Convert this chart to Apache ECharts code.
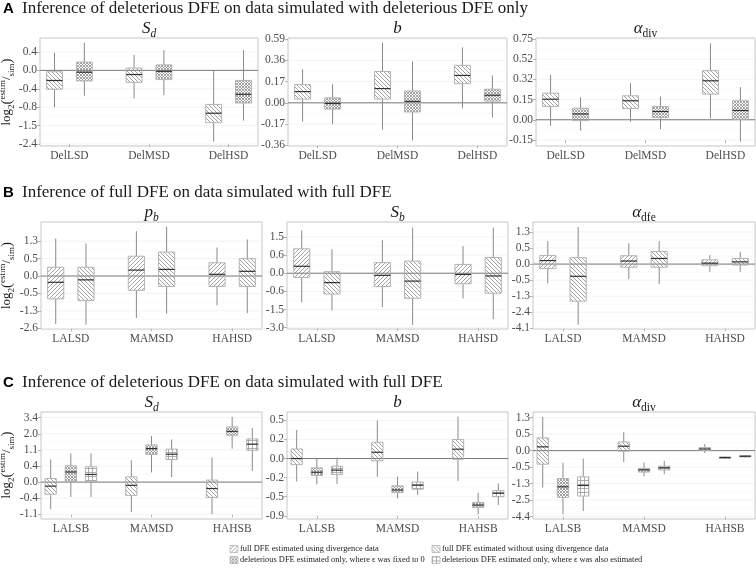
<!DOCTYPE html>
<html><head><meta charset="utf-8">
<script src="https://cdn.jsdelivr.net/npm/echarts@6/dist/echarts.min.js"></script>
<style>html,body{margin:0;padding:0;background:#fff}#c{width:756px;height:581px}</style>
</head><body><div id="c"></div>
<script>
// ---------------- DATA ----------------
const rowA_categories = ['DelLSD', 'DelMSD', 'DelHSD'];
const rowB_categories = ['LALSD', 'MAMSD', 'HAHSD'];
const rowC_categories = ['LALSB', 'MAMSD', 'HAHSB'];

const rowTitles = [
  'Inference of deleterious DFE on data simulated with deleterious DFE only',
  'Inference of full DFE on data simulated with full DFE',
  'Inference of deleterious DFE on data simulated with full DFE'
];
const rowLetters = ['A', 'B', 'C'];

const methodLabels = {
  withDiv: 'full DFE estimated using divergence data',
  noDiv: 'full DFE estimated without using divergence data',
  eps0: 'deleterious DFE estimated only, where \u03f5 was fixed to 0',
  epsEst: 'deleterious DFE estimated only, where \u03f5 was also estimated'
};

// tick labels (bottom -> top), boxes: [lower whisker, Q1, median, Q3, upper whisker] per category
const A_Sd_ticks = ['-2.4', '-1.5', '-0.8', '-0.4', '0.0', '0.4'];
const A_Sd_noDiv = [[-0.80, -0.41, -0.22, -0.03, 0.38], [-0.61, -0.26, -0.09, 0.05, 0.34], [-2.28, -1.39, -1.03, -0.74, 0.00]];
const A_Sd_eps0 = [[-0.55, -0.23, -0.04, 0.18, 0.60], [-0.54, -0.20, -0.02, 0.12, 0.44], [-1.31, -0.71, -0.52, -0.22, 0.44]];

const A_b_ticks = ['-0.36', '-0.17', '0.00', '0.17', '0.36', '0.59'];
const A_b_noDiv = [[-0.15, 0.03, 0.09, 0.146, 0.28], [-0.22, 0.03, 0.114, 0.26, 0.55], [-0.044, 0.153, 0.225, 0.315, 0.50]];
const A_b_eps0 = [[-0.17, -0.05, -0.005, 0.04, 0.148], [-0.316, -0.073, 0.012, 0.095, 0.35], [-0.116, 0.014, 0.061, 0.109, 0.225]];

const A_adiv_ticks = ['-0.15', '0.00', '0.15', '0.32', '0.52', '0.75'];
const A_adiv_noDiv = [[-0.045, 0.099, 0.153, 0.204, 0.366], [-0.014, 0.084, 0.141, 0.182, 0.288], [0.009, 0.196, 0.308, 0.406, 0.70]];
const A_adiv_eps0 = [[-0.081, -0.006, 0.043, 0.086, 0.17], [-0.07, 0.016, 0.061, 0.099, 0.176], [-0.162, 0.004, 0.069, 0.141, 0.255]];

const B_pb_ticks = ['-2.6', '-1.3', '-0.5', '0.0', '0.5', '1.3'];
const B_pb_withDiv = [[-2.28, -0.75, -0.18, 0.25, 1.42], [-1.83, -0.41, 0.17, 0.61, 1.76], [-1.05, -0.30, 0.05, 0.38, 1.01]];
const B_pb_noDiv = [[-2.33, -0.82, -0.11, 0.25, 1.20], [-1.51, -0.30, 0.19, 0.80, 1.96], [-1.47, -0.30, 0.135, 0.50, 1.38]];

const B_Sb_ticks = ['-3.0', '-1.5', '-0.6', '0.0', '0.6', '1.5'];
const B_Sb_withDiv = [[-1.15, -0.14, 0.23, 0.91, 1.82], [-1.38, -0.44, -0.07, 0.35, 1.34], [-0.95, -0.35, -0.04, 0.29, 1.04]];
const B_Sb_noDiv = [[-1.58, -0.73, -0.31, 0.05, 0.89], [-2.76, -0.94, -0.26, 0.40, 1.96], [-2.29, -0.69, -0.09, 0.52, 1.96]];

const B_adfe_ticks = ['-4.1', '-2.4', '-1.3', '-0.5', '0.0', '0.5', '1.3'];
const B_adfe_withDiv = [[-0.66, -0.14, 0.11, 0.27, 0.84], [-0.47, -0.10, 0.095, 0.26, 0.74], [-0.24, -0.05, 0.03, 0.135, 0.28]];
const B_adfe_noDiv = [[-3.71, -1.64, -0.38, 0.20, 1.55], [-0.69, -0.10, 0.175, 0.39, 0.84], [-0.24, -0.03, 0.07, 0.175, 0.38]];

const C_Sd_ticks = ['-1.1', '-0.4', '0.0', '0.4', '1.1', '2.0', '3.4'];
const C_Sd_noDiv = [[-0.88, -0.30, -0.10, 0.09, 0.68], [-1.00, -0.33, -0.08, 0.13, 0.65], [-1.09, -0.38, -0.16, 0.05, 0.77]];
const C_Sd_eps0 = [[-0.37, 0.02, 0.25, 0.41, 0.94], [0.24, 0.90, 1.17, 1.38, 1.87], [1.17, 1.92, 2.21, 2.59, 3.46]];
const C_Sd_epsEst = [[-0.37, 0.01, 0.19, 0.38, 0.94], [0.12, 0.68, 0.91, 1.14, 1.68], [0.28, 1.08, 1.42, 1.71, 2.50]];

const C_b_ticks = ['-0.9', '-0.5', '-0.2', '0.0', '0.2', '0.5'];
const C_b_noDiv = [[-0.26, -0.064, 0.0, 0.10, 0.35], [-0.19, -0.024, 0.066, 0.17, 0.50], [-0.254, -0.008, 0.098, 0.20, 0.56]];
const C_b_eps0 = [[-0.305, -0.178, -0.144, -0.098, 0.0], [-0.536, -0.437, -0.395, -0.33, -0.19], [-0.872, -0.724, -0.676, -0.62, -0.437]];
const C_b_epsEst = [[-0.30, -0.168, -0.122, -0.08, 0.01], [-0.473, -0.383, -0.32, -0.269, -0.136], [-0.676, -0.50, -0.446, -0.404, -0.29]];

const C_adiv_ticks = ['-4.4', '-2.5', '-1.3', '-0.5', '0.0', '0.5', '1.3'];
const C_adiv_noDiv = [[-1.58, -0.41, 0.115, 0.385, 1.33], [-0.35, -0.02, 0.135, 0.26, 0.59], [-0.07, 0.01, 0.05, 0.095, 0.195]];
const C_adiv_eps0 = [[-4.13, -2.30, -1.53, -1.05, -0.37], [-0.94, -0.74, -0.63, -0.56, -0.36], [-0.24, -0.23, -0.21, -0.19, -0.17]];
const C_adiv_epsEst = [[-3.75, -2.20, -1.43, -0.97, -0.24], [-0.84, -0.64, -0.53, -0.47, -0.31], [-0.21, -0.19, -0.17, -0.15, -0.13]];

// ---------------- LAYOUT / STYLE ----------------
const SERIF = "'Liberation Serif', 'Times New Roman', serif";
const SANS = "'Liberation Sans', Arial, sans-serif";

function makePattern(kind) {
  const s = kind === 'eps0' ? 3 : 4;
  const c = document.createElement('canvas');
  c.width = s; c.height = s;
  const g = c.getContext('2d');
  g.strokeStyle = '#8c8c8c'; g.lineWidth = 0.8;
  function diag(rising) {
    for (let k = -s; k <= s; k += s) {
      g.beginPath();
      if (rising) { g.moveTo(k, s); g.lineTo(k + s, 0); }
      else { g.moveTo(k, 0); g.lineTo(k + s, s); }
      g.stroke();
    }
  }
  if (kind === 'withDiv') diag(true);
  else if (kind === 'noDiv') diag(false);
  else if (kind === 'eps0') { diag(true); diag(false); }
  else {
    g.strokeStyle = '#9a9a9a';
    g.beginPath(); g.moveTo(0, 0.5); g.lineTo(s, 0.5); g.moveTo(0.5, 0); g.lineTo(0.5, s); g.stroke();
  }
  return { image: c, repeat: 'repeat' };
}
const patterns = {
  withDiv: makePattern('withDiv'), noDiv: makePattern('noDiv'),
  eps0: makePattern('eps0'), epsEst: makePattern('epsEst')
};

const panels = [
  { grid: { left: 40, top: 38, width: 218, height: 108 }, ymin: -0.11, ymax: 5.76, ticks: A_Sd_ticks, cats: rowA_categories, sets: [['noDiv', A_Sd_noDiv], ['eps0', A_Sd_eps0]], title: ['S', 'd', true] },
  { grid: { left: 288, top: 38, width: 219, height: 108 }, ymin: -0.03, ymax: 5.05, ticks: A_b_ticks, cats: rowA_categories, sets: [['noDiv', A_b_noDiv], ['eps0', A_b_eps0]], title: ['b', '', true] },
  { grid: { left: 536, top: 38, width: 219, height: 108 }, ymin: -0.3, ymax: 5.05, ticks: A_adiv_ticks, cats: rowA_categories, sets: [['noDiv', A_adiv_noDiv], ['eps0', A_adiv_eps0]], title: ['\u03b1', 'div', false] },
  { grid: { left: 41, top: 222, width: 221, height: 107 }, ymin: -0.04, ymax: 6.1, ticks: B_pb_ticks, cats: rowB_categories, sets: [['withDiv', B_pb_withDiv], ['noDiv', B_pb_noDiv]], title: ['p', 'b', true] },
  { grid: { left: 287, top: 222, width: 221, height: 107 }, ymin: -0.07, ymax: 5.82, ticks: B_Sb_ticks, cats: rowB_categories, sets: [['withDiv', B_Sb_withDiv], ['noDiv', B_Sb_noDiv]], title: ['S', 'b', true] },
  { grid: { left: 533, top: 222, width: 222, height: 107 }, ymin: -0.04, ymax: 6.62, ticks: B_adfe_ticks, cats: rowB_categories, sets: [['withDiv', B_adfe_withDiv], ['noDiv', B_adfe_noDiv]], title: ['\u03b1', 'dfe', false] },
  { grid: { left: 41, top: 412, width: 221, height: 107 }, ymin: -0.29, ymax: 6.35, ticks: C_Sd_ticks, cats: rowC_categories, sets: [['noDiv', C_Sd_noDiv], ['eps0', C_Sd_eps0], ['epsEst', C_Sd_epsEst]], title: ['S', 'd', true] },
  { grid: { left: 287, top: 412, width: 221, height: 107 }, ymin: -0.17, ymax: 5.44, ticks: C_b_ticks, cats: rowC_categories, sets: [['noDiv', C_b_noDiv], ['eps0', C_b_eps0], ['epsEst', C_b_epsEst]], title: ['b', '', true] },
  { grid: { left: 533, top: 412, width: 222, height: 107 }, ymin: -0.14, ymax: 6.34, ticks: C_adiv_ticks, cats: rowC_categories, sets: [['noDiv', C_adiv_noDiv], ['eps0', C_adiv_eps0], ['epsEst', C_adiv_epsEst]], title: ['\u03b1', 'div', false] }
];
const XMIN = 0.63, XMAX = 3.37;

// piecewise-linear transform of a value onto the evenly spaced tick scale
function toT(tickNums, v) {
  const n = tickNums.length;
  let i = 0;
  if (v <= tickNums[0]) i = 0;
  else if (v >= tickNums[n - 1]) i = n - 2;
  else { while (!(v >= tickNums[i] && v <= tickNums[i + 1])) i++; }
  return i + (v - tickNums[i]) / (tickNums[i + 1] - tickNums[i]);
}

const option = { animation: false, grid: [], xAxis: [], yAxis: [], series: [], graphic: [] };

function boxRender(bw, pattern) {
  return function (params, api) {
    const x = api.value(0);
    const p = api.coord([x, api.value(1)]);
    const px = p[0], yLo = p[1];
    const yQ1 = api.coord([x, api.value(2)])[1];
    const yMed = api.coord([x, api.value(3)])[1];
    const yQ3 = api.coord([x, api.value(4)])[1];
    const yHi = api.coord([x, api.value(5)])[1];
    const hw = api.size([bw, 0])[0] / 2;
    return {
      type: 'group', children: [
        { type: 'line', shape: { x1: px, y1: yLo, x2: px, y2: yQ1 }, style: { stroke: '#8a8a8a', lineWidth: 1 } },
        { type: 'line', shape: { x1: px, y1: yQ3, x2: px, y2: yHi }, style: { stroke: '#8a8a8a', lineWidth: 1 } },
        { type: 'rect', shape: { x: px - hw, y: yQ3, width: 2 * hw, height: yQ1 - yQ3 }, style: { fill: pattern, stroke: '#b4b4b4', lineWidth: 1 } },
        { type: 'line', shape: { x1: px - hw, y1: yMed, x2: px + hw, y2: yMed }, style: { stroke: '#303030', lineWidth: 1.2 } }
      ]
    };
  };
}

function gridRender(params, api) {
  const cs = params.coordSys;
  const y = api.coord([XMIN, api.value(0)])[1];
  const kind = api.value(1);
  const st = kind === 2 ? { stroke: '#7a7a7a', lineWidth: 1 } : kind === 1 ? { stroke: '#ebebeb', lineWidth: 0.6 } : { stroke: '#f4f4f4', lineWidth: 0.5 };
  return { type: 'line', shape: { x1: cs.x, y1: y, x2: cs.x + cs.width, y2: y }, style: st };
}

panels.forEach((pn, gi) => {
  const tickNums = pn.ticks.map(Number);
  const idx = pn.ticks.map((_, i) => i);
  option.grid.push(Object.assign({ show: true, borderColor: '#c6c6c6', borderWidth: 1, backgroundColor: 'transparent', containLabel: false }, pn.grid));
  option.xAxis.push({
    gridIndex: gi, type: 'value', min: XMIN, max: XMAX,
    axisLine: { show: false }, splitLine: { show: false },
    axisTick: { show: true, customValues: [1, 2, 3], length: 3, lineStyle: { color: '#b3b3b3' } },
    axisLabel: { customValues: [1, 2, 3], formatter: v => pn.cats[Math.round(v) - 1], fontFamily: SERIF, fontSize: 11.5, color: '#4d4d4d', margin: 4 }
  });
  option.yAxis.push({
    gridIndex: gi, type: 'value', min: pn.ymin, max: pn.ymax,
    axisLine: { show: false }, splitLine: { show: false },
    axisTick: { show: true, customValues: idx, length: 3, lineStyle: { color: '#b3b3b3' } },
    axisLabel: { customValues: idx, formatter: v => pn.ticks[Math.round(v)], fontFamily: SERIF, fontSize: 11.5, color: '#4d4d4d', margin: 3 }
  });
  // grid lines: minor, major, zero
  const gl = [];
  for (let i = 0; i < pn.ticks.length; i++) {
    gl.push([i, 1]);
    if (i < pn.ticks.length - 1) gl.push([i + 0.5, 0]);
  }
  gl.push([toT(tickNums, 0), 2]);
  option.series.push({ type: 'custom', xAxisIndex: gi, yAxisIndex: gi, z: 1, silent: true, clip: true, renderItem: gridRender, encode: { y: 0 }, data: gl });
  // boxes
  const n = pn.sets.length;
  const offs = n === 2 ? [-0.1875, 0.1875] : [-0.25, 0, 0.25];
  const bw = n === 2 ? 0.2 : 0.14;
  pn.sets.forEach((set, si) => {
    const key = set[0], boxes = set[1];
    const data = boxes.map((b, ci) => [ci + 1 + offs[si]].concat(b.map(v => toT(tickNums, v))));
    option.series.push({ type: 'custom', name: methodLabels[key], xAxisIndex: gi, yAxisIndex: gi, z: 2, silent: true, renderItem: boxRender(bw, patterns[key]), encode: { x: 0, y: [1, 2, 3, 4, 5] }, data: data });
  });
  // panel title
  const cx = pn.grid.left + pn.grid.width / 2;
  const cy = pn.grid.top - 9;
  const t = pn.title;
  option.graphic.push({
    type: 'text', x: cx, y: cy, silent: true,
    style: {
      text: t[1] ? '{m|' + t[0] + '}{s|' + t[1] + '}' : '{m|' + t[0] + '}',
      align: 'center', verticalAlign: 'middle',
      rich: {
        m: { fontFamily: SERIF, fontStyle: 'italic', fontSize: 17, lineHeight: 21, fill: '#1a1a1a' },
        s: { fontFamily: SERIF, fontStyle: t[2] ? 'italic' : 'normal', fontSize: 11.5, lineHeight: 11, verticalAlign: 'bottom', fill: '#1a1a1a' }
      }
    }
  });
});

// row letters, titles, y-axis titles
const rowTitleY = [9, 193, 383];
const rowCenterY = [92, 275.5, 465];
rowTitles.forEach((txt, r) => {
  option.graphic.push({ type: 'text', x: 3, y: rowTitleY[r], silent: true, style: { text: rowLetters[r], font: 'bold 15px ' + SANS, fill: '#000', verticalAlign: 'middle' } });
  option.graphic.push({ type: 'text', x: 22, y: rowTitleY[r], silent: true, style: { text: txt, font: '17px ' + SERIF, fill: '#1a1a1a', verticalAlign: 'middle' } });
  option.graphic.push({
    type: 'text', x: 7, y: rowCenterY[r], rotation: Math.PI / 2, silent: true,
    style: {
      text: '{n|log}{s|2}{p|(}{u|estim}{n|/}{d|sim}{p|)}', align: 'center', verticalAlign: 'middle',
      rich: {
        n: { fontFamily: SERIF, fontSize: 13, lineHeight: 18, fill: '#1a1a1a' },
        s: { fontFamily: SERIF, fontSize: 9, lineHeight: 9, verticalAlign: 'bottom', fill: '#1a1a1a' },
        p: { fontFamily: SERIF, fontSize: 15, lineHeight: 18, fill: '#1a1a1a' },
        u: { fontFamily: SERIF, fontSize: 9, lineHeight: 9, verticalAlign: 'top', fill: '#1a1a1a' },
        d: { fontFamily: SERIF, fontSize: 9, lineHeight: 9, verticalAlign: 'bottom', fill: '#1a1a1a' }
      }
    }
  });
});

// legend
const legendItems = [['withDiv', 230, 549], ['eps0', 230, 560], ['noDiv', 432, 549], ['epsEst', 432, 560]];
legendItems.forEach(it => {
  option.graphic.push({ type: 'rect', x: it[1], y: it[2] - 3.5, silent: true, shape: { x: 0, y: 0, width: 8, height: 7 }, style: { fill: patterns[it[0]], stroke: '#b4b4b4', lineWidth: 0.8 } });
  option.graphic.push({ type: 'text', x: it[1] + 10, y: it[2], silent: true, style: { text: methodLabels[it[0]], font: '8.4px ' + SERIF, fill: '#222', verticalAlign: 'middle' } });
});

const chart = echarts.init(document.getElementById('c'), null, { renderer: 'canvas' });
chart.setOption(option);
</script></body></html>
